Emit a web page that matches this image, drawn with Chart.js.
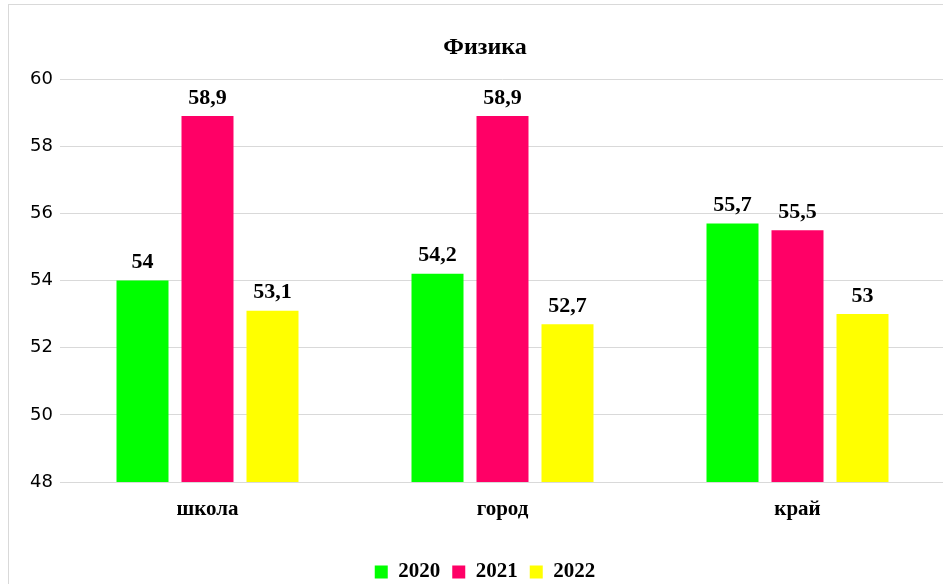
<!DOCTYPE html>
<html>
<head>
<meta charset="utf-8">
<script src="https://cdn.jsdelivr.net/npm/chart.js"></script>
<style>
  html, body { margin: 0; padding: 0; background: #fff; overflow: hidden; }
  #frame { position: absolute; left: 8px; top: 4px; width: 1000px; height: 700px; border: 1px solid #d9d9d9; }
  #wrap { position: absolute; left: 25px; top: 0; width: 920px; height: 600px; }
</style>
</head>
<body>
<div id="frame"></div>
<div id="wrap"><canvas id="chart"></canvas></div>
<script>
const categories = ['школа', 'город', 'край']
const years = ['2020', '2021', '2022']
const values2020 = [54, 54.2, 55.7]
const values2021 = [58.9, 58.9, 55.5]
const values2022 = [53.1, 52.7, 53]
const yTicks = [48, 50, 52, 54, 56, 58, 60]
const colors = ['#00ff00', '#ff0066', '#ffff00']

const serif = 'Liberation Serif'

// value labels above the bars
const barLabels = {
  id: 'barLabels',
  afterDatasetsDraw(chart) {
    const { ctx } = chart
    ctx.save()
    ctx.font = `bold 22px "${serif}"`
    ctx.fillStyle = '#000'
    ctx.textAlign = 'center'
    ctx.textBaseline = 'middle'
    chart.data.datasets.forEach((ds, i) => {
      chart.getDatasetMeta(i).data.forEach((bar, j) => {
        const txt = String(ds.data[j]).replace('.', ',')
        ctx.fillText(txt, bar.x, bar.y - 18)
      })
    })
    ctx.restore()
  }
}

const series = [values2020, values2021, values2022]

new Chart(document.getElementById('chart'), {
  type: 'bar',
  data: {
    labels: categories,
    datasets: series.map((data, i) => ({
      label: years[i],
      data,
      backgroundColor: colors[i],
      borderWidth: 0,
      categoryPercentage: 0.661,
      barPercentage: 0.8
    }))
  },
  options: {
    responsive: true,
    maintainAspectRatio: false,
    animation: false,
    layout: { padding: { bottom: 7.5 } },
    plugins: {
      title: {
        display: true,
        text: 'Физика',
        color: '#000',
        font: { family: serif, size: 24, weight: 'bold' },
        padding: { top: 33, bottom: 17.2 }
      },
      legend: {
        position: 'bottom',
        labels: {
          color: '#000',
          font: { family: serif, size: 21, weight: 'bold' },
          boxWidth: 13,
          boxHeight: 13,
          padding: 12
        }
      },
      tooltip: { enabled: false }
    },
    scales: {
      x: {
        grid: { display: false },
        border: { display: true, color: '#d9d9d9' },
        ticks: {
          color: '#000',
          font: { family: serif, size: 21, weight: 'bold' },
          padding: 7
        },
        afterFit(scale) { scale.height = 67.5 }
      },
      y: {
        min: yTicks[0],
        max: yTicks[yTicks.length - 1],
        grid: { color: '#d9d9d9', drawTicks: false },
        border: { display: false },
        ticks: {
          stepSize: 2,
          color: '#000',
          font: { family: 'DejaVu Sans', size: 18 },
          padding: 7
        },
        afterFit(scale) { scale.width = 35 }
      }
    }
  },
  plugins: [barLabels]
})
</script>
</body>
</html>
